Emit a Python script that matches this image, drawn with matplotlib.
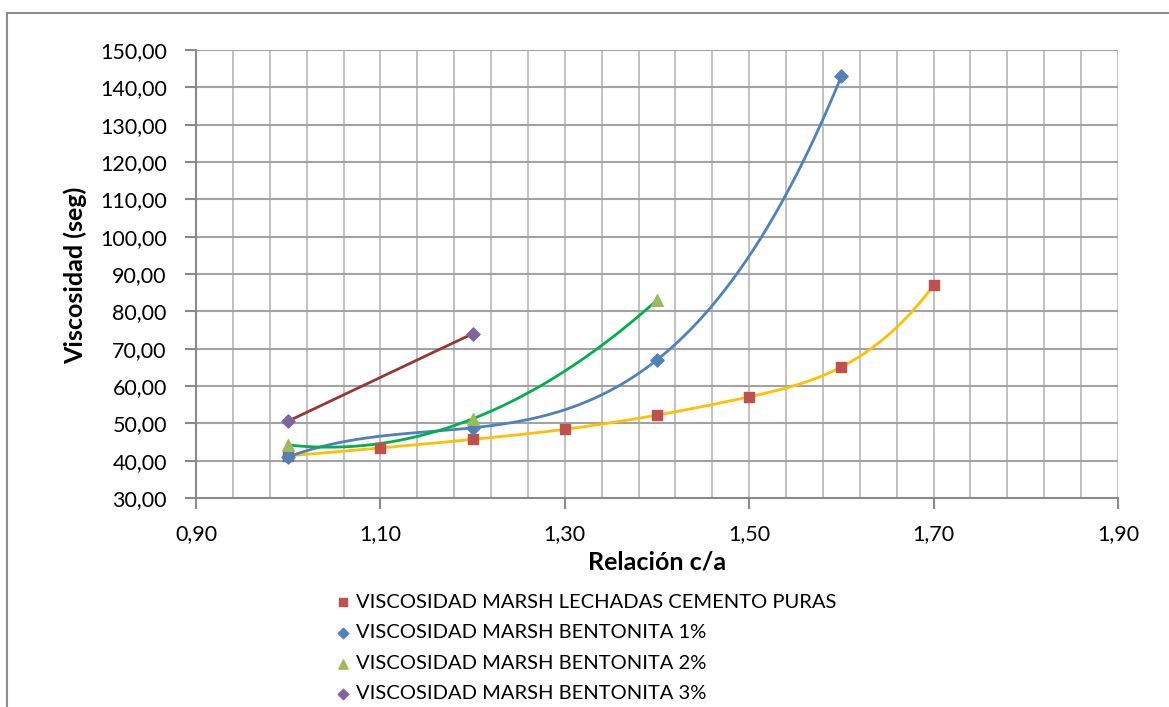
import numpy as np
import matplotlib
matplotlib.use("Agg")
import matplotlib.pyplot as plt
from matplotlib.patches import Rectangle
from matplotlib.ticker import MultipleLocator, FixedLocator, FuncFormatter

plt.rcParams['font.family'] = ['Lato', 'DejaVu Sans']

# Relación c/a and Marsh viscosity (seg) for each mix
x_puras = [1.0, 1.1, 1.2, 1.3, 1.4, 1.5, 1.6, 1.7]
y_puras = [41.3, 43.4, 45.7, 48.4, 52.2, 57.1, 65.1, 87.0]

x_bent1 = [1.0, 1.2, 1.4, 1.6]
y_bent1 = [41.0, 48.8, 67.0, 143.0]

x_bent2 = [1.0, 1.2, 1.4]
y_bent2 = [44.2, 51.2, 83.0]

x_bent3 = [1.0, 1.2]
y_bent3 = [50.6, 74.0]

labels = [
    "VISCOSIDAD MARSH LECHADAS CEMENTO PURAS",
    "VISCOSIDAD MARSH BENTONITA 1%",
    "VISCOSIDAD MARSH BENTONITA 2%",
    "VISCOSIDAD MARSH BENTONITA 3%",
]

x_ticks = [0.9, 1.1, 1.3, 1.5, 1.7, 1.9]


def smooth(xs, ys, n=80):
    """Not-a-knot cubic spline through the points."""
    x = np.asarray(xs, float)
    y = np.asarray(ys, float)
    m = len(x)
    if m == 2:
        return x, y
    xx = np.linspace(x[0], x[-1], n * (m - 1))
    if m == 3:
        c = np.polyfit(x, y, 2)
        return xx, np.polyval(c, xx)
    h = np.diff(x)
    A = np.zeros((m, m))
    b = np.zeros(m)
    A[0, 0], A[0, 1], A[0, 2] = h[1], -(h[0] + h[1]), h[0]
    A[-1, -3], A[-1, -2], A[-1, -1] = h[-1], -(h[-2] + h[-1]), h[-2]
    for i in range(1, m - 1):
        A[i, i - 1] = h[i - 1]
        A[i, i] = 2 * (h[i - 1] + h[i])
        A[i, i + 1] = h[i]
        b[i] = 6 * ((y[i + 1] - y[i]) / h[i] - (y[i] - y[i - 1]) / h[i - 1])
    M = np.linalg.solve(A, b)
    k = np.clip(np.searchsorted(x, xx) - 1, 0, m - 2)
    hk = h[k]
    a = (x[k + 1] - xx) / hk
    bb = (xx - x[k]) / hk
    yy = (a * y[k] + bb * y[k + 1]
          + ((a ** 3 - a) * M[k] + (bb ** 3 - bb) * M[k + 1]) * hk ** 2 / 6)
    return xx, yy


W, H = 1169, 707
fig = plt.figure(figsize=(W / 100, H / 100), dpi=100)
fig.patch.set_facecolor("white")

# outer chart frame
fig.patches.append(Rectangle((7 / W, -0.05), 1.2, 1 - 13 / H + 0.05,
                             transform=fig.transFigure, fill=False,
                             edgecolor="#8c8c8c", linewidth=1.5, clip_on=False))

ax = fig.add_axes([196 / W, 1 - 498 / H, (1118 - 196) / W, (498 - 50) / H])
ax.set_xlim(0.9, 1.9)
ax.set_ylim(30, 150)

# grid
for xv in np.arange(0.9, 1.9001, 0.04):
    ax.axvline(xv, color="#bdbdbd", linewidth=1.3, zorder=0)
for yv in np.arange(40, 150.1, 10):
    ax.axhline(yv, color="#a3a3a3", linewidth=1.5, zorder=0)

for side in ["top", "right"]:
    ax.spines[side].set_visible(False)
for side in ["left", "bottom"]:
    ax.spines[side].set_color("#8a8a8a")
    ax.spines[side].set_linewidth(1.5)

ax.xaxis.set_major_locator(FixedLocator(x_ticks))
ax.yaxis.set_major_locator(MultipleLocator(10))
fmt = FuncFormatter(lambda v, p: f"{v:.2f}".replace(".", ","))
ax.xaxis.set_major_formatter(fmt)
ax.yaxis.set_major_formatter(fmt)
ax.tick_params(axis="both", direction="out", length=8, width=1.5,
               color="#8a8a8a", labelsize=15.5, labelcolor="black")
ax.tick_params(axis="x", pad=11)
ax.tick_params(axis="y", pad=13)

# series
sx, sy = smooth(x_puras, y_puras)
ax.plot(sx, sy, color="#FFC000", linewidth=2, zorder=3)
h1 = ax.scatter(x_puras, y_puras, marker="s", s=60, color="#C0504D", zorder=4)

sx, sy = smooth(x_bent1, y_bent1)
ax.plot(sx, sy, color="#4F81BD", linewidth=2, zorder=3)
h2 = ax.scatter(x_bent1, y_bent1, marker="D", s=45, color="#4F81BD", zorder=4)

sx, sy = smooth(x_bent2, y_bent2)
ax.plot(sx, sy, color="#00B050", linewidth=2, zorder=3)
h3 = ax.scatter(x_bent2, y_bent2, marker="^", s=70, color="#9BBB59", zorder=4)

ax.plot(x_bent3, y_bent3, color="#953735", linewidth=2, zorder=3)
h4 = ax.scatter(x_bent3, y_bent3, marker="D", s=45, color="#8064A2", zorder=4)

ax.set_xlabel("Relación c/a", fontsize=18, fontweight="bold", va="center")
ax.set_ylabel("Viscosidad (seg)", fontsize=18, fontweight="bold", va="center")
ax.xaxis.set_label_coords((657 - 196) / 922, -(562 - 498) / 448)
ax.yaxis.set_label_coords((75 - 196) / 922, (498 - 275) / 448)

leg = fig.legend([h1, h2, h3, h4], labels, loc="upper left",
                 bbox_to_anchor=(327 / W, 1 - 583.5 / H), frameon=False,
                 fontsize=14.5, handlelength=0.6, handletextpad=0.35,
                 labelspacing=0.67, markerscale=0.8, borderpad=0)

fig.savefig("out.png", dpi=100, facecolor="white")
